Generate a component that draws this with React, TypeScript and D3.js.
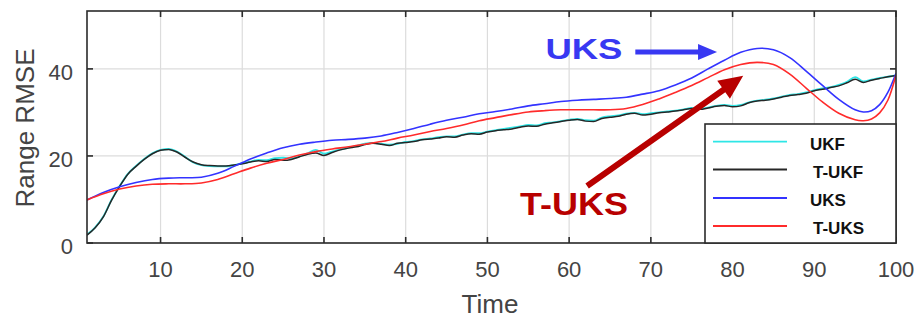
import React from "react";
import * as d3 from "d3";

// Time steps of the simulation run
const TIME = d3.range(1, 101);

// Range RMSE of the filters (one value per time step)
const T_UKF = [
  1.8, 3.5, 6.0, 9.8, 13.0, 15.8, 17.6, 19.2, 20.5, 21.3,
  21.5, 20.9, 19.7, 18.6, 18.0, 17.8, 17.7, 17.7, 17.9, 18.2,
  18.6, 18.9, 18.7, 19.2, 19.0, 19.2, 19.8, 20.4, 20.7, 20.1,
  20.8, 21.4, 21.8, 22.1, 22.6, 22.9, 22.7, 22.4, 22.9, 23.1,
  23.3, 23.7, 23.9, 24.1, 24.4, 24.3, 24.8, 25.1, 25.0, 25.5,
  25.8, 26.0, 26.2, 26.6, 26.9, 26.8, 27.3, 27.6, 27.9, 28.2,
  28.4, 28.0, 27.9, 28.6, 28.9, 29.1, 29.6, 29.8, 29.4, 29.6,
  29.9, 30.1, 30.3, 30.6, 30.9, 30.7, 31.0, 31.4, 31.6, 31.3,
  31.5, 32.2, 32.6, 32.8, 33.1, 33.5, 33.9, 34.1, 34.4, 35.0,
  35.3, 35.7, 36.1, 36.8, 37.6, 36.9, 37.4, 37.8, 38.2, 38.5,
];

const UKF = [
  1.9, 3.6, 6.1, 9.9, 13.1, 15.9, 17.7, 19.3, 20.6, 21.4,
  21.6, 21.0, 19.8, 18.5, 17.9, 17.7, 17.6, 17.6, 17.9, 18.3,
  18.7, 19.1, 19.0, 19.5, 19.6, 19.4, 19.9, 20.6, 21.4, 20.5,
  21.0, 21.5, 21.9, 22.3, 22.8, 23.0, 22.8, 22.6, 22.8, 23.2,
  23.4, 23.8, 24.0, 24.3, 24.5, 24.5, 24.9, 25.2, 25.2, 25.6,
  25.9, 26.2, 26.5, 26.8, 27.1, 27.0, 27.5, 27.7, 28.0, 28.3,
  28.5, 28.2, 28.1, 28.8, 29.1, 29.3, 29.7, 29.9, 29.6, 29.8,
  30.0, 30.2, 30.4, 30.7, 31.0, 30.9, 31.1, 31.5, 31.7, 31.5,
  31.7, 32.3, 32.7, 32.9, 33.2, 33.6, 34.0, 34.2, 34.6, 35.1,
  35.5, 35.8, 36.3, 37.0, 38.1, 37.1, 37.5, 37.9, 38.2, 38.5,
];

// Smoother outputs, sampled on a coarser time grid
const SMOOTH_TIME = [
  1, 3, 5, 7, 9, 11, 13, 15, 17, 19, 21, 23, 25, 27, 29, 31, 33, 35, 37, 39,
  41, 43, 45, 47, 49, 51, 53, 55, 57, 59, 61, 63, 65, 67, 69, 71, 73, 75, 77, 79,
  81, 83, 85, 87, 89, 91, 93, 95, 96, 97, 98, 99, 100,
];

const UKS = [
  9.9, 11.6, 12.9, 13.9, 14.6, 14.9, 15.0, 15.1, 16.0, 17.6,
  19.3, 20.7, 21.9, 22.7, 23.2, 23.6, 23.8, 24.1, 24.6, 25.4,
  26.3, 27.3, 28.2, 28.9, 29.7, 30.2, 30.8, 31.5, 32.0, 32.5,
  32.8, 33.0, 33.2, 33.5, 34.2, 35.0, 36.3, 37.9, 40.0, 42.0,
  43.8, 44.7, 44.4, 42.6, 39.5, 36.2, 33.0, 30.6, 30.1, 30.4,
  31.8, 34.6, 39.0,
];

const T_UKS = [
  9.9, 11.3, 12.4, 13.1, 13.5, 13.6, 13.6, 13.8, 14.6, 15.9,
  17.2, 18.3, 19.2, 20.2, 21.0, 21.6, 22.1, 22.7, 23.3, 24.1,
  24.8, 25.6, 26.3, 27.1, 28.1, 28.8, 29.5, 30.1, 30.4, 30.6,
  30.6, 30.6, 30.6, 30.9, 31.8, 33.1, 34.6, 36.2, 38.0, 39.8,
  41.0, 41.5, 41.0, 38.8, 35.6, 32.4, 29.8, 28.3, 28.1, 28.5,
  29.9, 32.8, 38.6,
];

const X_TICKS = [10, 20, 30, 40, 50, 60, 70, 80, 90, 100];
const Y_TICKS = [0, 20, 40];

const LEGEND_LABELS = ["UKF", "T-UKF", "UKS", "T-UKS"];

const FONT = "'Liberation Sans', Arial, Helvetica, sans-serif";

const COLORS = {
  ukf: "#2ee6e6",
  tukf: "#262626",
  uks: "#3333ff",
  tuks: "#ff2b2b",
  noteBlue: "#3838f2",
  noteRed: "#b80000",
};

const W = 919;
const H = 320;
const plot = { left: 87, right: 896, top: 11, bottom: 243 };

export default function App() {
  const x = d3.scaleLinear().domain([1, 100]).range([plot.left, plot.right]);
  const y = d3.scaleLinear().domain([0, 53.3]).range([plot.bottom, plot.top]);

  const rough = d3
    .line<number>()
    .x((_, i) => x(TIME[i]))
    .y((d) => y(d))
    .curve(d3.curveMonotoneX);

  const smooth = d3
    .line<number>()
    .x((_, i) => x(SMOOTH_TIME[i]))
    .y((d) => y(d))
    .curve(d3.curveCatmullRom.alpha(0.5));

  // Annotation arrows, anchored in data units
  const arrow = (
    x0: number,
    y0: number,
    x1: number,
    y1: number,
    shaft: number,
    headLen: number,
    headHalf: number
  ) => {
    const ax = x(x0), ay = y(y0), bx = x(x1), by = y(y1);
    const dx = bx - ax, dy = by - ay;
    const len = Math.hypot(dx, dy);
    const ux = dx / len, uy = dy / len;
    const nx = -uy, ny = ux;
    const hx = bx - ux * headLen, hy = by - uy * headLen;
    const s = shaft / 2;
    const pts = [
      [ax + nx * s, ay + ny * s],
      [hx + nx * s, hy + ny * s],
      [hx + nx * headHalf, hy + ny * headHalf],
      [bx, by],
      [hx - nx * headHalf, hy - ny * headHalf],
      [hx - nx * s, hy - ny * s],
      [ax - nx * s, ay - ny * s],
    ];
    return "M" + pts.map((p) => p.join(",")).join("L") + "Z";
  };

  const tickLen = 6;
  const legend = { x: 705, y: 124, w: 191, h: 119 };
  const legendRows = [141.7, 169.5, 198, 226];
  const legendColors = [COLORS.ukf, COLORS.tukf, COLORS.uks, COLORS.tuks];
  const legendTextX = [810, 813, 810, 813];

  return (
    <svg
      width={W}
      height={H}
      style={{ position: "absolute", left: 0, top: 0, background: "#fff" }}
      fontFamily={FONT}
    >
      <defs>
        <clipPath id="plot-clip">
          <rect
            x={plot.left}
            y={plot.top}
            width={plot.right - plot.left}
            height={plot.bottom - plot.top}
          />
        </clipPath>
      </defs>

      {/* grid */}
      <g stroke="#dcdcdc" strokeWidth={1.2}>
        {X_TICKS.map((t) => (
          <line key={"gx" + t} x1={x(t)} x2={x(t)} y1={plot.top} y2={plot.bottom} />
        ))}
        {Y_TICKS.map((t) => (
          <line key={"gy" + t} x1={plot.left} x2={plot.right} y1={y(t)} y2={y(t)} />
        ))}
      </g>

      {/* series */}
      <g clipPath="url(#plot-clip)" fill="none" strokeWidth={1.6} strokeLinejoin="round">
        <path d={rough(UKF) || ""} stroke={COLORS.ukf} strokeWidth={1.9} />
        <path d={rough(T_UKF) || ""} stroke={COLORS.tukf} strokeWidth={1.5} />
        <path d={smooth(UKS) || ""} stroke={COLORS.uks} />
        <path d={smooth(T_UKS) || ""} stroke={COLORS.tuks} />
      </g>

      {/* axes frame and inward ticks */}
      <g stroke="#2b2b2b" strokeWidth={1.6} fill="none">
        <rect
          x={plot.left}
          y={plot.top}
          width={plot.right - plot.left}
          height={plot.bottom - plot.top}
        />
        {X_TICKS.map((t) => (
          <g key={"tx" + t}>
            <line x1={x(t)} x2={x(t)} y1={plot.bottom} y2={plot.bottom - tickLen} />
            <line x1={x(t)} x2={x(t)} y1={plot.top} y2={plot.top + tickLen} />
          </g>
        ))}
        {Y_TICKS.map((t) => (
          <g key={"ty" + t}>
            <line x1={plot.left} x2={plot.left + tickLen} y1={y(t)} y2={y(t)} />
            <line x1={plot.right} x2={plot.right - tickLen} y1={y(t)} y2={y(t)} />
          </g>
        ))}
      </g>

      {/* tick labels */}
      <g fill="#444" fontSize={22}>
        {X_TICKS.map((t) => (
          <text key={"lx" + t} x={x(t)} y={277} textAnchor="middle">
            {t}
          </text>
        ))}
        {Y_TICKS.map((t) => (
          <text key={"ly" + t} x={73} y={y(t) + 11} textAnchor="end">
            {t}
          </text>
        ))}
      </g>

      {/* axis titles */}
      <text x={490} y={313} fontSize={26} fill="#444" textAnchor="middle">
        Time
      </text>
      <text
        transform={`translate(34, 128) rotate(-90)`}
        fontSize={26}
        fill="#444"
        textAnchor="middle"
      >
        Range RMSE
      </text>

      {/* legend */}
      <rect
        x={legend.x}
        y={legend.y}
        width={legend.w}
        height={legend.h}
        fill="#fff"
        stroke="#2b2b2b"
        strokeWidth={1.6}
      />
      {LEGEND_LABELS.map((lab, i) => (
        <g key={lab}>
          <line
            x1={713}
            x2={787}
            y1={legendRows[i]}
            y2={legendRows[i]}
            stroke={legendColors[i]}
            strokeWidth={1.8}
          />
          <text
            x={legendTextX[i]}
            y={legendRows[i] + 8}
            fontSize={17}
            fontWeight="bold"
            fill="#111"
          >
            {lab}
          </text>
        </g>
      ))}

      {/* annotations */}
      <text
        x={x(57.1)}
        y={y(42.3)}
        fontSize={30}
        fontWeight="bold"
        fill={COLORS.noteBlue}
        textLength={77}
        lengthAdjust="spacingAndGlyphs"
      >
        UKS
      </text>
      <path d={arrow(68.1, 43.9, 78.1, 43.9, 5, 19, 8)} fill={COLORS.noteBlue} />

      <text
        x={x(54.0)}
        y={y(6.4)}
        fontSize={31}
        fontWeight="bold"
        fill={COLORS.noteRed}
        textLength={108}
        lengthAdjust="spacingAndGlyphs"
      >
        T-UKS
      </text>
      <path d={arrow(62.2, 13.1, 81.3, 38.4, 6, 24, 11)} fill={COLORS.noteRed} />
    </svg>
  );
}
